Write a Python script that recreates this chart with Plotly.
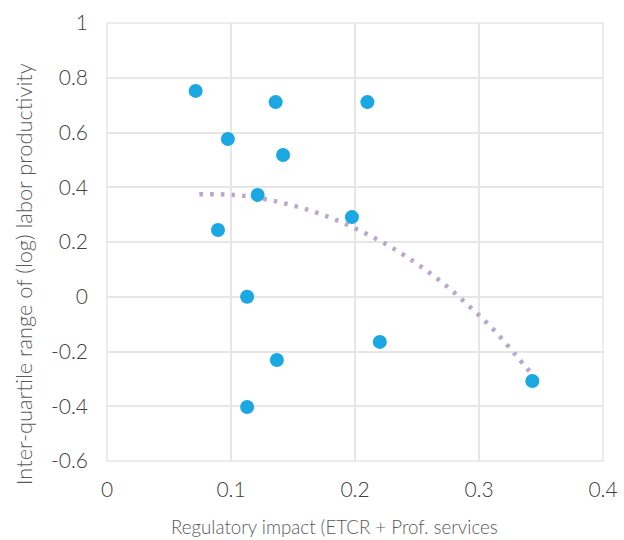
import plotly.graph_objects as go

reg_impact = [0.0715, 0.136, 0.210, 0.0975, 0.142, 0.1215, 0.1975, 0.0895, 0.113, 0.220, 0.137, 0.113, 0.343]
iqr_prod = [0.752, 0.711, 0.711, 0.576, 0.518, 0.372, 0.291, 0.244, 0.0, -0.165, -0.231, -0.403, -0.308]

# polynomial trendline as drawn in the reference
trend_x = [0.0745, 0.1024, 0.1293, 0.1551, 0.1806, 0.2051, 0.2288, 0.2514, 0.2728, 0.2927, 0.3119, 0.3296, 0.3430]
trend_y = [0.374, 0.372, 0.355, 0.327, 0.288, 0.239, 0.182, 0.116, 0.043, -0.037, -0.121, -0.213, -0.285]

x_ticks = [0, 0.1, 0.2, 0.3, 0.4]
x_tick_text = ["0", "0.1", "0.2", "0.3", "0.4"]
y_ticks = [-0.6, -0.4, -0.2, 0, 0.2, 0.4, 0.6, 0.8, 1]
y_tick_text = ["-0.6", "-0.4", "-0.2", "0", "0.2", "0.4", "0.6", "0.8", "1"]

x_title = "Regulatory impact (ETCR + Prof. services"
y_title = "Inter-quartile range of (log) labor productivity"

fig = go.Figure()
fig.add_trace(go.Scatter(x=trend_x, y=trend_y, mode="lines",
                         line=dict(color="#baa7cb", width=4.5, dash="3.5px,7.2px", shape="spline"),
                         showlegend=False))
fig.add_trace(go.Scatter(x=reg_impact, y=iqr_prod, mode="markers",
                         marker=dict(color="#1ba7e1", size=14), showlegend=False))

tickfont = dict(family="Lato", size=21, color="#404040", weight=300)
grid = "#e6e6e6"
fig.update_layout(
    width=624, height=540,
    margin=dict(l=107, r=21, t=23, b=79),
    plot_bgcolor="white", paper_bgcolor="white",
    font=dict(family="Lato", color="#404040", weight=300),
    xaxis=dict(range=[0, 0.4], tickvals=x_ticks, ticktext=x_tick_text,
               showgrid=True, gridcolor=grid, gridwidth=1.5, automargin=False,
               zeroline=False, showline=False, ticks="",
               ticklabelstandoff=14, tickfont=tickfont),
    yaxis=dict(range=[-0.6, 1], tickvals=y_ticks, ticktext=y_tick_text,
               showgrid=True, gridcolor=grid, gridwidth=1.5, automargin=False,
               zeroline=False, showline=False, ticks="",
               ticklabelstandoff=18, tickfont=tickfont),
    annotations=[
        dict(text=x_title, xref="paper", yref="paper", x=0.458, y=-0.15,
             xanchor="center", yanchor="middle", showarrow=False,
             font=dict(family="Lato", size=18.7, color="#595959", weight=300)),
        dict(text=y_title, xref="paper", yref="paper", x=-0.167, y=0.427,
             xanchor="center", yanchor="middle", showarrow=False, textangle=-90,
             font=dict(family="Lato", size=21.8, color="#595959", weight=300)),
    ],
)
fig.add_shape(type="rect", xref="paper", yref="paper", x0=0, y0=0, x1=1, y1=1,
              line=dict(color=grid, width=1.5), layer="below")
fig.write_html("out.html", config={"displayModeBar": False},
               post_script="document.body.style.margin='0';")
